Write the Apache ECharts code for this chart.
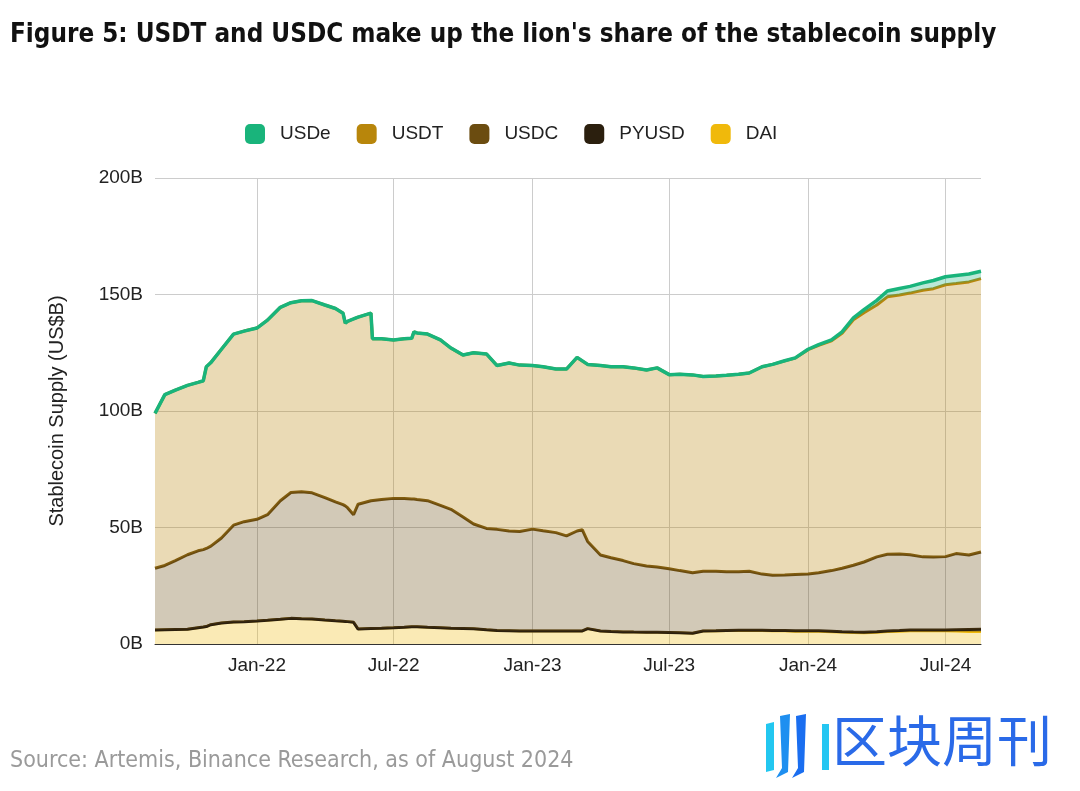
<!DOCTYPE html>
<html>
<head>
<meta charset="utf-8">
<script src="https://cdn.jsdelivr.net/npm/echarts@6/dist/echarts.min.js"></script>
<style>
html,body{margin:0;padding:0;background:#fff;}
#chart{width:1080px;height:791px;}
</style>
</head>
<body>
<div id="chart"></div>
<script>
const dates = ['2021-08-19','2021-09-01','2021-09-15','2021-10-01','2021-10-15','2021-10-22','2021-10-26','2021-11-01','2021-11-15','2021-12-01',
'2021-12-15','2022-01-01','2022-01-15','2022-02-01','2022-02-15','2022-03-01','2022-03-15','2022-04-01','2022-04-15','2022-04-25',
'2022-04-28','2022-05-01','2022-05-09','2022-05-15','2022-06-01','2022-06-03','2022-06-15','2022-07-01','2022-07-15','2022-07-25',
'2022-07-28','2022-08-01','2022-08-15','2022-09-01','2022-09-15','2022-10-01','2022-10-15','2022-11-01','2022-11-15','2022-12-01',
'2022-12-15','2023-01-01','2023-01-15','2023-02-01','2023-02-15','2023-03-01','2023-03-08','2023-03-15','2023-04-01','2023-04-15',
'2023-05-01','2023-05-15','2023-06-01','2023-06-15','2023-07-01','2023-07-15','2023-08-01','2023-08-15','2023-09-01','2023-09-15',
'2023-10-01','2023-10-15','2023-11-01','2023-11-15','2023-12-01','2023-12-15','2024-01-01','2024-01-15','2024-02-01','2024-02-15',
'2024-03-01','2024-03-15','2024-04-01','2024-04-15','2024-05-01','2024-05-15','2024-06-01','2024-06-15','2024-07-01','2024-07-15',
'2024-08-01','2024-08-17'];

const DAI = [6.0,6.1,6.2,6.3,7.0,7.3,7.5,8.3,9.0,9.4,
9.6,9.9,10.2,10.6,11.0,10.8,10.7,10.3,10.0,9.8,
9.7,9.6,9.3,6.4,6.7,6.7,6.8,7.0,7.2,7.4,
7.4,7.4,7.2,7.0,6.8,6.7,6.5,6.1,5.8,5.7,
5.6,5.6,5.6,5.6,5.6,5.6,5.6,6.6,5.6,5.4,
5.2,5.1,5.0,5.0,4.9,4.8,4.6,5.55,5.55,5.65,
5.74,5.73,5.7,5.58,5.55,5.4,5.4,5.4,5.2,5.0,
4.8,4.7,4.95,5.23,5.4,5.6,5.6,5.58,5.55,5.5,
5.3,5.3];

const PYUSD = [0,0,0,0,0,0,0,0,0,0,
0,0,0,0,0,0,0,0,0,0,
0,0,0,0,0,0,0,0,0,0,
0,0,0,0,0,0,0,0,0,0,
0,0,0,0,0,0,0,0,0,0,
0,0,0,0,0,0,0,0.05,0.15,0.15,
0.16,0.17,0.2,0.22,0.25,0.3,0.3,0.3,0.3,0.3,
0.3,0.3,0.35,0.37,0.4,0.4,0.4,0.42,0.45,0.6,
0.9,1.0];

const USDC = [26.5,27.6,29.6,32.0,33.0,33.2,33.5,33.7,36.5,41.6,
42.9,43.6,45.3,50.9,54.0,54.5,54.2,52.5,51.0,50.0,
49.6,48.9,46.2,53.6,54.8,54.9,55.2,55.5,55.2,54.8,
54.8,54.6,54.3,52.5,51.0,47.8,45.0,43.5,43.4,42.8,
42.7,43.7,43.0,42.2,40.8,42.9,43.4,37.4,32.6,31.6,
30.6,29.4,28.5,28.0,27.4,26.7,26.0,25.6,25.5,25.2,
25.1,25.3,24.1,23.7,23.8,24.1,24.3,24.9,26.0,27.2,
28.7,30.2,32.1,32.9,32.8,32.3,31.4,31.3,31.5,32.7,
32.0,33.2];

const USDT = [66.5,73.3,73.2,72.7,72.3,72.5,78.0,78.8,81.0,82.0,
81.8,82.1,83.5,83.0,81.5,82.0,82.5,82.7,83.0,82.2,
78.4,80.0,84.0,80.3,80.5,69.4,69.0,68.0,68.6,69.0,
71.8,71.5,71.5,71.0,69.2,69.5,73.5,74.9,70.3,72.1,
71.4,70.2,70.4,70.2,71.6,74.5,72.5,76.0,81.3,82.0,
83.2,84.0,84.1,85.5,83.3,84.3,84.9,83.6,83.8,84.3,
84.8,85.1,89.0,90.5,91.9,92.9,96.3,97.6,98.6,100.9,
105.4,107.0,108.1,110.5,111.2,112.3,114.4,115.2,116.7,115.9,
117.2,117.3];

const USDe = [0,0,0,0,0,0,0,0,0,0,
0,0,0,0,0,0,0,0,0,0,
0,0,0,0,0,0,0,0,0,0,
0,0,0,0,0,0,0,0,0,0,
0,0,0,0,0,0,0,0,0,0,
0,0,0,0,0,0,0,0,0,0,
0,0,0,0,0.05,0.1,0.2,0.3,0.4,0.6,
0.8,1.3,2.0,2.5,2.8,2.9,3.2,3.5,3.4,3.5,
3.4,3.2];

const yTicks = ['0B','50B','100B','150B','200B'];
const monthNames = ['Jan','Feb','Mar','Apr','May','Jun','Jul','Aug','Sep','Oct','Nov','Dec'];

const colors = {
  USDe: '#19b47b',
  USDT: '#b8860b',
  USDC: '#6b4c10',
  PYUSD: '#2b1f0e',
  DAI: '#f0b90b'
};

function pairs(arr){ return dates.map((d,i)=>[d, arr[i]]); }

function mk(name, arr, lw, z){
  return {
    name: name,
    type: 'line',
    stack: 'total',
    data: pairs(arr),
    showSymbol: false,
    symbol: 'none',
    z: z,
    lineStyle: {color: colors[name], width: lw},
    itemStyle: {color: colors[name]},
    areaStyle: {color: colors[name], opacity: 0.3},
    emphasis: {disabled: true}
  };
}

const chart = echarts.init(document.getElementById('chart'), null, {renderer:'canvas'});
const DAY = 24*3600*1000;
chart.setOption({
  animation: false,
  backgroundColor: '#ffffff',
  title: {
    text: "Figure 5: USDT and USDC make up the lion's share of the stablecoin supply",
    left: 10, top: 22, padding: 0,
    textStyle: {fontFamily: 'DejaVu Sans Condensed', fontWeight: 'bold', fontSize: 25.8, color: '#111'}
  },
  legend: {
    data: ['USDe','USDT','USDC','PYUSD','DAI'],
    top: 124, left: 245, padding: 0,
    itemWidth: 20, itemHeight: 20, itemGap: 26,
    icon: 'roundRect',
    textStyle: {fontFamily: 'Liberation Sans', fontSize: 19, color: '#222', padding:[0,0,0,10]}
  },
  grid: {left: 155, right: 99, top: 178, bottom: 147, containLabel: false},
  xAxis: {
    type: 'time',
    min: '2021-08-19', max: '2024-08-17',
    minInterval: 175*DAY, maxInterval: 190*DAY,
    splitNumber: 6,
    axisLine: {show: true, lineStyle: {color: '#333', width: 1}},
    axisTick: {show: false},
    splitLine: {show: true, showMinLine: false, showMaxLine: false, lineStyle: {color: '#cccccc', width: 1}},
    axisLabel: {
      fontFamily: 'Liberation Sans', fontSize: 19, color: '#222', margin: 12,
      formatter: function(v){ const d = new Date(v); return monthNames[d.getMonth()] + '-' + String(d.getFullYear()).slice(2); },
      hideOverlap: false
    }
  },
  yAxis: {
    type: 'value', min: 0, max: 200, interval: 50,
    name: 'Stablecoin Supply (US$B)',
    nameLocation: 'middle', nameGap: 88,
    nameTextStyle: {fontFamily: 'Liberation Sans', fontSize: 20, color: '#222'},
    axisLine: {show: false},
    axisTick: {show: false},
    splitLine: {lineStyle: {color: '#cccccc', width: 1}},
    axisLabel: {
      fontFamily: 'Liberation Sans', fontSize: 19, color: '#222', margin: 12,
      formatter: function(v){ return yTicks[Math.round(v/50)]; }
    }
  },
  series: [
    mk('DAI', DAI, 2.5, 2),
    mk('PYUSD', PYUSD, 3, 3),
    mk('USDC', USDC, 3, 4),
    mk('USDT', USDT, 3, 5),
    mk('USDe', USDe, 3.5, 6)
  ],
  graphic: [
    {type:'text', left: 10, top: 750, style:{text:'Source: Artemis, Binance Research, as of August 2024', fontFamily:'DejaVu Sans Condensed', fontSize: 23, fill:'#9a9a9a'}},
    {type:'polygon', shape:{points:[[766,724],[774,722],[774,770],[766,772]]}, style:{fill:'#22c7f0'}},
    {type:'polygon', shape:{points:[[780,716],[790,714],[788,772],[776,778],[782,768]]}, style:{fill:'#1e8ff0'}},
    {type:'polygon', shape:{points:[[796,716],[806,714],[804,772],[792,778],[798,768]]}, style:{fill:'#1a6ef0'}},
    {type:'rect', shape:{x:822,y:724,width:7,height:46}, style:{fill:'#25c6f2'}},
    {type:'text', left: 832, top: 713, style:{text:'区块周刊', fontFamily:'Noto Sans CJK SC', fontSize: 55, fill:'#2a6ae8'}}
  ]
});
</script>
</body>
</html>
